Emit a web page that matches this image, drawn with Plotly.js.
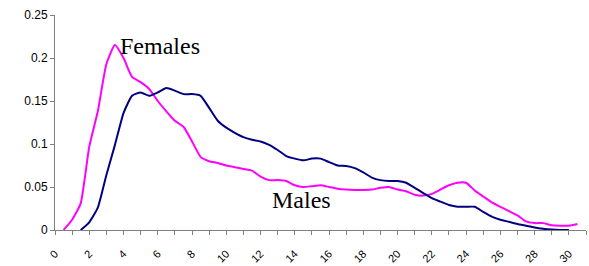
<!DOCTYPE html>
<html>
<head>
<meta charset="utf-8">
<script src="https://cdn.plot.ly/plotly-3.0.1.min.js"></script>
<style>html,body{margin:0;padding:0;background:#fff;}#chart{width:589px;height:266px;}</style>
</head>
<body>
<div id="chart"></div>
<script>
// x positions (two points per tick interval)
const xPos = [0,0.5,1,1.5,2,2.5,3,3.5,4,4.5,5,5.5,6,6.5,7,7.5,8,8.5,9,9.5,10,10.5,11,11.5,12,12.5,13,13.5,14,14.5,15,15.5,16,16.5,17,17.5,18,18.5,19,19.5,20,20.5,21,21.5,22,22.5,23,23.5,24,24.5,25,25.5,26,26.5,27,27.5,28,28.5,29,29.5,30,30.5,31];

const females = [null,0,0.012,0.031,0.097,0.138,0.193,0.215,0.200,0.178,0.172,0.164,0.150,0.138,0.127,0.120,0.103,0.085,0.080,0.078,0.075,0.073,0.071,0.069,0.062,0.058,0.058,0.057,0.052,0.050,0.051,0.052,0.050,0.048,0.047,0.0465,0.0465,0.047,0.049,0.050,0.047,0.045,0.041,0.040,0.042,0.047,0.052,0.055,0.055,0.046,0.039,0.032,0.027,0.022,0.017,0.010,0.008,0.008,0.0055,0.005,0.005,0.007,null];

const males = [null,null,null,0,0.009,0.026,0.064,0.099,0.136,0.156,0.160,0.156,0.160,0.165,0.162,0.158,0.158,0.156,0.142,0.127,0.119,0.113,0.108,0.105,0.103,0.099,0.093,0.086,0.083,0.081,0.083,0.083,0.079,0.075,0.0745,0.072,0.067,0.061,0.058,0.057,0.057,0.055,0.049,0.043,0.037,0.033,0.029,0.027,0.027,0.027,0.021,0.0155,0.012,0.0095,0.007,0.005,0.003,0.0015,0.0005,0,0,null,null];

const tickValues = [0,2,4,6,8,10,12,14,16,18,20,22,24,26,28,30];
const tickLabels = ["0","2","4","6","8","10","12","14","16","18","20","22","24","26","28","30"];
const yTicks = [0,0.05,0.1,0.15,0.2,0.25];
const yLabels = ["0","0.05","0.1","0.15","0.2","0.25"];

const traces = [
  {x: xPos, y: females, type: 'scatter', mode: 'lines', name: 'Females',
   line: {color: '#FF00FF', width: 2, shape: 'spline', smoothing: 0.5}, connectgaps: false},
  {x: xPos, y: males, type: 'scatter', mode: 'lines', name: 'Males',
   line: {color: '#000080', width: 2, shape: 'spline', smoothing: 0.5}, connectgaps: false}
];

const axisColor = '#808080';
const layout = {
  width: 589, height: 266,
  margin: {l: 55, r: 3, t: 15, b: 36, pad: 0},
  paper_bgcolor: '#ffffff', plot_bgcolor: '#ffffff',
  showlegend: false,
  font: {family: 'Liberation Sans, Arial, sans-serif', color: '#000'},
  xaxis: {
    range: [0, 31], showgrid: false, zeroline: false,
    showline: true, linecolor: axisColor, linewidth: 1,
    tickmode: 'array', tickvals: tickValues, ticktext: tickLabels,
    ticks: 'outside', ticklen: 4, tickcolor: axisColor, tickwidth: 1,
    tickangle: -45, tickfont: {size: 11, color: '#000'}, ticklabelstandoff: 8,
    minor: {dtick: 1, tick0: 0, ticks: 'outside', ticklen: 4, tickcolor: axisColor, tickwidth: 1, showgrid: false}
  },
  yaxis: {
    range: [0, 0.25], showgrid: false, zeroline: false,
    showline: true, linecolor: axisColor, linewidth: 1,
    tickmode: 'array', tickvals: yTicks, ticktext: yLabels,
    ticks: 'outside', ticklen: 4, tickcolor: axisColor, tickwidth: 1,
    tickfont: {size: 12, color: '#000'}
  },
  annotations: [
    {text: 'Females', xref: 'x', yref: 'y', x: 3.68, y: 0.214, xanchor: 'left', yanchor: 'middle',
     showarrow: false, font: {family: 'Liberation Serif, Times New Roman, serif', size: 24, color: '#000'}},
    {text: 'Males', xref: 'x', yref: 'y', x: 12.55, y: 0.035, xanchor: 'left', yanchor: 'middle',
     showarrow: false, font: {family: 'Liberation Serif, Times New Roman, serif', size: 24, color: '#000'}}
  ]
};

Plotly.newPlot('chart', traces, layout, {staticPlot: true, displayModeBar: false});
</script>
</body>
</html>
